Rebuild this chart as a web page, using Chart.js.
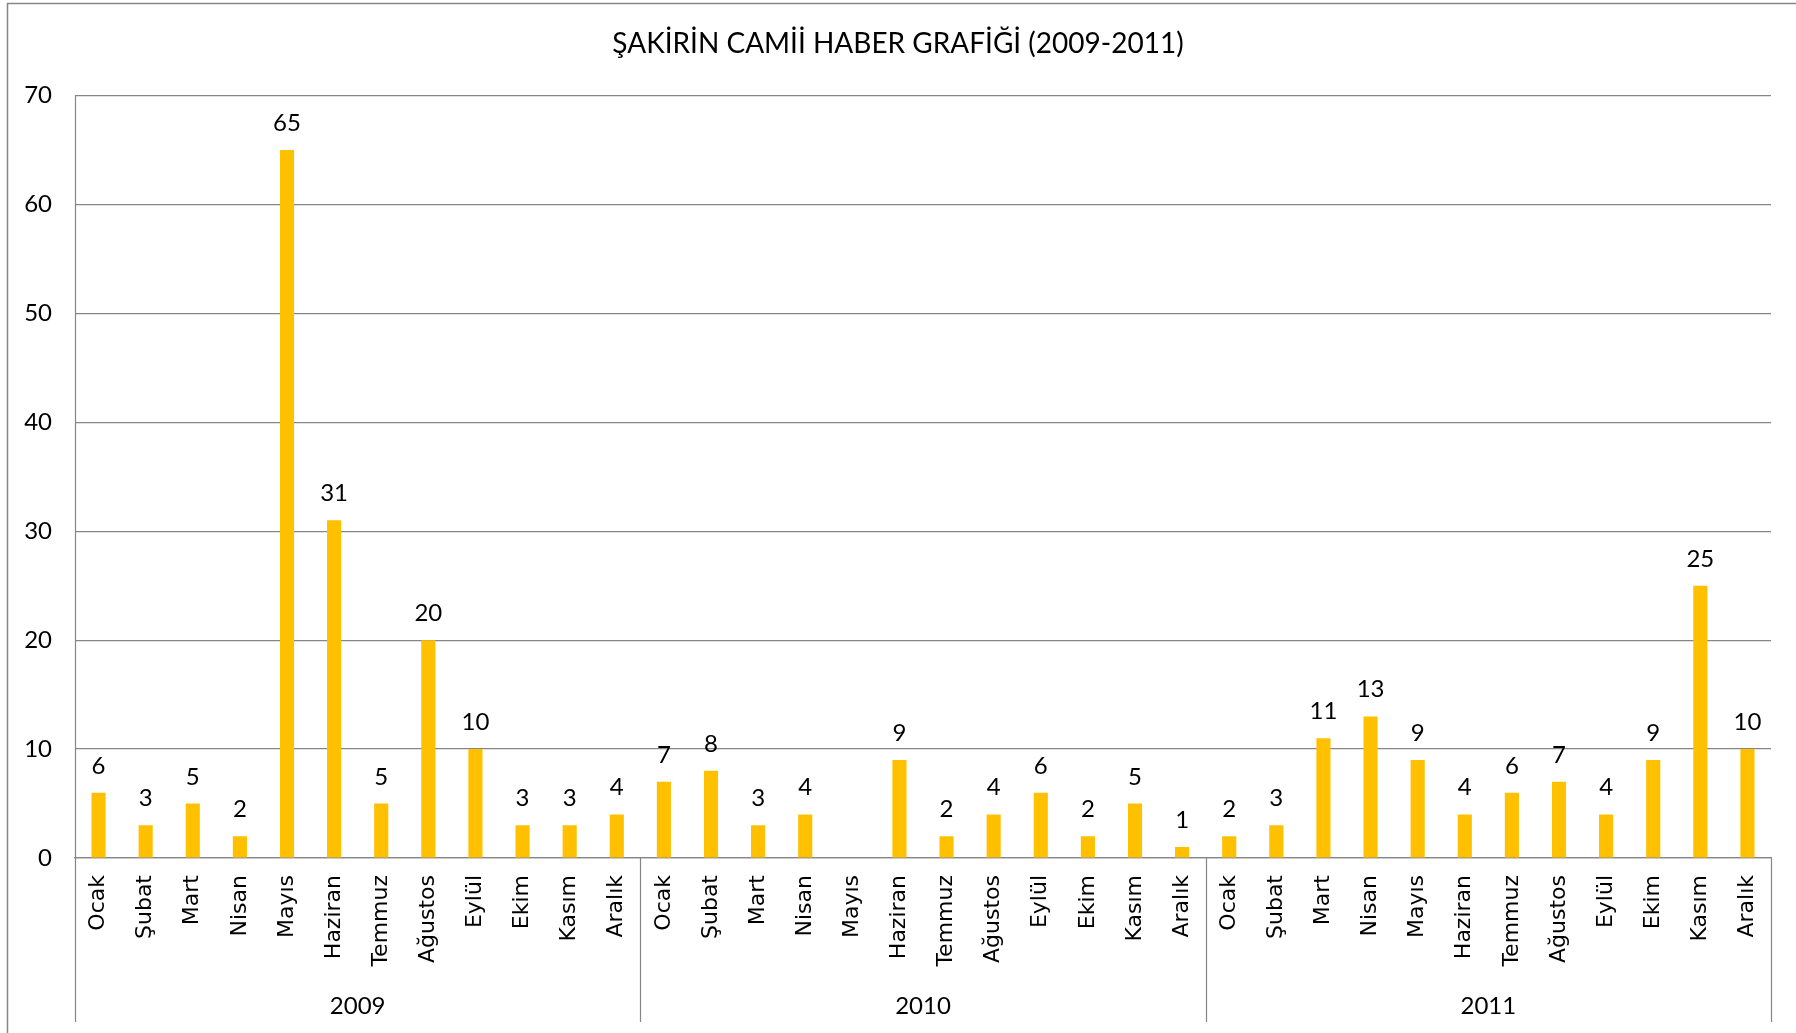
<!DOCTYPE html>
<html>
<head>
<meta charset="utf-8">
<title>Şakirin Camii Haber Grafiği</title>
<script src="https://cdn.jsdelivr.net/npm/chart.js@4.4.1/dist/chart.umd.min.js"></script>
<style>
  html, body { margin: 0; padding: 0; background: #fff; }
  #wrap { width: 1796px; height: 1033px; }
</style>
</head>
<body>
<div id="wrap"><canvas id="haberChart" width="1796" height="1033"></canvas></div>
<script>
// data
var years = ['2009', '2010', '2011'];
var months = ['Ocak', 'Şubat', 'Mart', 'Nisan', 'Mayıs', 'Haziran', 'Temmuz', 'Ağustos', 'Eylül', 'Ekim', 'Kasım', 'Aralık'];
var news2009 = [6, 3, 5, 2, 65, 31, 5, 20, 10, 3, 3, 4];
var news2010 = [7, 8, 3, 4, null, 9, 2, 4, 6, 2, 5, 1];
var news2011 = [2, 3, 11, 13, 9, 4, 6, 7, 4, 9, 25, 10];
var yMax = 70;
var yStep = 10;

var labels = months.concat(months, months);
var values = news2009.concat(news2010, news2011);

var numFont = 'Lato, "Open Sans", sans-serif';
var lineColor = '#868686';

// bar values, year groups and frame lines
var excelBits = {
    id: 'excelBits',
    beforeDraw: function (chart) {
        var c = chart.ctx;
        c.save();
        c.fillStyle = '#fff';
        c.fillRect(0, 0, chart.width, chart.height);
        c.strokeStyle = lineColor;
        c.lineWidth = 1.5;
        c.strokeRect(7.5, 3.5, chart.width + 20, chart.height + 20);
        c.restore();
    },
    afterDatasetsDraw: function (chart) {
        var c = chart.ctx;
        var area = chart.chartArea;
        var x = chart.scales.x;
        var bars = chart.getDatasetMeta(0).data;
        c.save();
        c.font = '24px ' + numFont;
        c.fillStyle = '#000';
        c.textAlign = 'center';
        c.textBaseline = 'alphabetic';
        bars.forEach(function (bar, i) {
            if (values[i] == null) return;
            c.fillText(String(values[i]), bar.x, bar.y - 19);
        });

        var half = (x.getPixelForValue(1) - x.getPixelForValue(0)) / 2;
        var bottom = chart.height - 11;
        c.strokeStyle = lineColor;
        c.lineWidth = 1.2;
        for (var g = 0; g <= years.length; g++) {
            var idx = g * months.length;
            var px = idx < labels.length ? x.getPixelForValue(idx) - half : x.getPixelForValue(labels.length - 1) + half;
            px = Math.round(px) + 0.5;
            c.beginPath();
            c.moveTo(px, g === 0 ? area.top : area.bottom);
            c.lineTo(px, bottom);
            c.stroke();
        }
        c.textBaseline = 'middle';
        years.forEach(function (yr, g) {
            var a = x.getPixelForValue(g * months.length);
            var b = x.getPixelForValue((g + 1) * months.length - 1);
            c.fillText(yr, (a + b) / 2, 1006);
        });
        c.restore();
    }
};

var ctx = document.getElementById('haberChart').getContext('2d');
var myChart = new Chart(ctx, {
    type: 'bar',
    data: {
        labels: labels,
        datasets: [{
            label: 'Haber',
            data: values,
            backgroundColor: '#FFC000',
            barPercentage: 0.3,
            categoryPercentage: 1
        }]
    },
    options: {
        responsive: false,
        animation: false,
        devicePixelRatio: 1,
        layout: {
            padding: 0
        },
        plugins: {
            legend: { display: false },
            tooltip: { enabled: false },
            title: {
                display: true,
                text: 'ŞAKİRİN CAMİİ HABER GRAFİĞİ (2009-2011)',
                color: '#000',
                font: { family: numFont, size: 28, weight: 'normal' },
                padding: { top: 27, bottom: 35 }
            }
        },
        scales: {
            x: {
                grid: { display: false },
                border: { display: true, color: lineColor, width: 1.2 },
                ticks: {
                    autoSkip: false,
                    minRotation: 90,
                    maxRotation: 90,
                    padding: 9,
                    color: '#000',
                    font: { family: '"DejaVu Sans", Verdana, sans-serif', size: 22 }
                },
                afterFit: function (scale) { scale.height = 175; }
            },
            y: {
                min: 0,
                max: yMax,
                grid: { color: lineColor, lineWidth: 1.2, drawTicks: false },
                border: { display: false },
                ticks: {
                    stepSize: yStep,
                    padding: 23,
                    color: '#000',
                    font: { family: numFont, size: 24 }
                },
                afterFit: function (scale) { scale.width = 75; }
            },
            // empty strip on the right, keeps the plot 25px off the edge
            yRight: {
                position: 'right',
                min: 0,
                max: yMax,
                grid: { display: false },
                border: { display: false },
                ticks: { display: false },
                afterFit: function (scale) { scale.width = 25; }
            }
        }
    },
    plugins: [excelBits]
});
</script>
</body>
</html>
